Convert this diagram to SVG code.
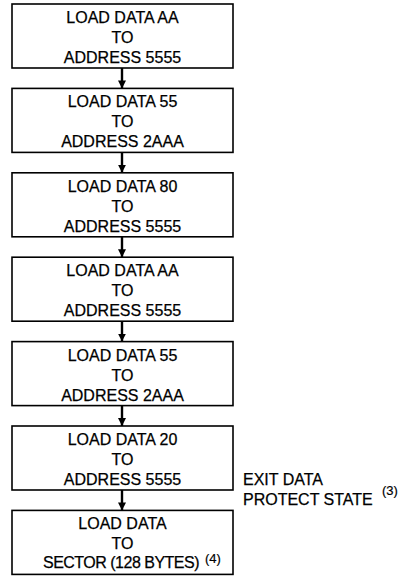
<svg xmlns="http://www.w3.org/2000/svg" width="414" height="576" viewBox="0 0 414 576">
<style>
.box{fill:#fff;stroke:#000;stroke-width:1.6}
.t{font-family:"Liberation Sans",Arial,sans-serif;font-size:16px;fill:#000;stroke:#000;stroke-width:0.25;text-anchor:middle}
.n{font-family:"Liberation Sans",Arial,sans-serif;font-size:16px;fill:#000;stroke:#000;stroke-width:0.25}
.s{font-family:"Liberation Sans",Arial,sans-serif;font-size:13px;fill:#000;stroke:#000;stroke-width:0.2}
.c{stroke:#000;stroke-width:2.4;fill:none}
</style>
<defs>
<marker id="ah" markerUnits="userSpaceOnUse" markerWidth="9" markerHeight="9" refX="8" refY="4.5" orient="auto">
<path d="M0,0.5 L8,4.5 L0,8.5 Z" fill="#000"/>
</marker>
</defs>
<rect width="414" height="576" fill="#fff"/>
<g id="connectors">
<line class="c" x1="122" y1="68" x2="122" y2="88.4" marker-end="url(#ah)"/>
<line class="c" x1="122" y1="152.4" x2="122" y2="172.8" marker-end="url(#ah)"/>
<line class="c" x1="122" y1="236.8" x2="122" y2="257.2" marker-end="url(#ah)"/>
<line class="c" x1="122" y1="321.2" x2="122" y2="341.6" marker-end="url(#ah)"/>
<line class="c" x1="122" y1="405.6" x2="122" y2="426" marker-end="url(#ah)"/>
<line class="c" x1="122" y1="490" x2="122" y2="510.4" marker-end="url(#ah)"/>
</g>
<g id="n1">
<rect class="box" x="12" y="4" width="221" height="64"/>
<text class="t" x="122.5" y="23">LOAD DATA AA</text>
<text class="t" x="122.5" y="43">TO</text>
<text class="t" x="122.5" y="63">ADDRESS 5555</text>
</g>
<g id="n2">
<rect class="box" x="12" y="88.4" width="221" height="64"/>
<text class="t" x="122.5" y="107.4">LOAD DATA 55</text>
<text class="t" x="122.5" y="127.4">TO</text>
<text class="t" x="122.5" y="147.4">ADDRESS 2AAA</text>
</g>
<g id="n3">
<rect class="box" x="12" y="172.8" width="221" height="64"/>
<text class="t" x="122.5" y="191.8">LOAD DATA 80</text>
<text class="t" x="122.5" y="211.8">TO</text>
<text class="t" x="122.5" y="231.8">ADDRESS 5555</text>
</g>
<g id="n4">
<rect class="box" x="12" y="257.2" width="221" height="64"/>
<text class="t" x="122.5" y="276.2">LOAD DATA AA</text>
<text class="t" x="122.5" y="296.2">TO</text>
<text class="t" x="122.5" y="316.2">ADDRESS 5555</text>
</g>
<g id="n5">
<rect class="box" x="12" y="341.6" width="221" height="64"/>
<text class="t" x="122.5" y="360.6">LOAD DATA 55</text>
<text class="t" x="122.5" y="380.6">TO</text>
<text class="t" x="122.5" y="400.6">ADDRESS 2AAA</text>
</g>
<g id="n6">
<rect class="box" x="12" y="426" width="221" height="64"/>
<text class="t" x="122.5" y="445">LOAD DATA 20</text>
<text class="t" x="122.5" y="465">TO</text>
<text class="t" x="122.5" y="485">ADDRESS 5555</text>
</g>
<g id="n7">
<rect class="box" x="12" y="510.4" width="221" height="64"/>
<text class="t" x="122.5" y="528.5">LOAD DATA</text>
<text class="t" x="122.5" y="548.5">TO</text>
<text class="t" x="121" y="568" letter-spacing="-0.5">SECTOR (128 BYTES)</text>
<text class="s" x="205" y="563">(4)</text>
</g>
<g id="note">
<text class="n" x="243" y="485">EXIT DATA</text>
<text class="n" x="243" y="505">PROTECT STATE</text>
<text class="s" x="382" y="495">(3)</text>
</g>
</svg>
